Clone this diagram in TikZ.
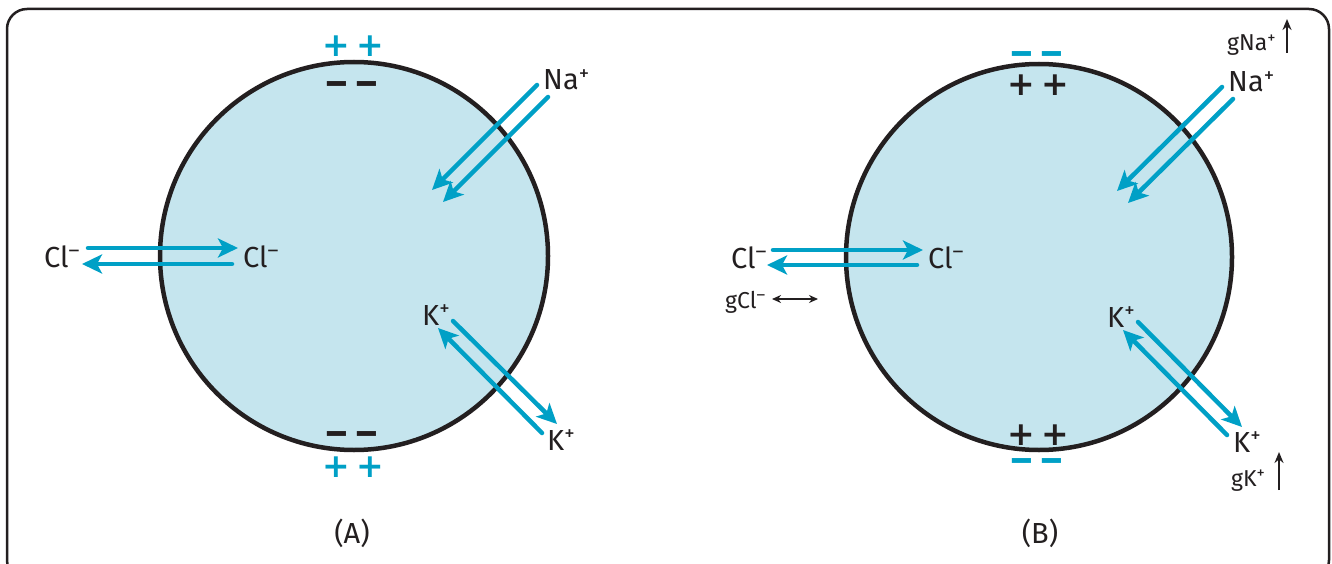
\documentclass[tikz,border=0pt]{standalone}
\usepackage{fontspec}
\setmainfont{Fira Sans}
\newfontfamily\chgfont{DejaVu Sans}
\usetikzlibrary{arrows.meta}
\definecolor{cellfill}{HTML}{C5E5EE}
\definecolor{ion}{HTML}{00A0C6}
\definecolor{ink}{HTML}{231F20}
\newcommand\ionsup[1]{\raisebox{0.32em}{\scalebox{0.72}{#1}}}
\tikzset{
  flux/.style={draw=ion, line width=4.5pt, line cap=round,
    -{Stealth[length=20pt,width=19pt,inset=5pt]}},
  cell/.style={circle, draw=ink, fill=cellfill, line width=4.5pt,
    inner sep=0pt, minimum size=#1},
  lbl/.style={text=ink, font=\fontsize{29}{30}\selectfont, inner sep=0pt, anchor=base west},
  panelcap/.style={text=ink, font=\fontsize{29}{30}\selectfont, inner sep=0pt},
  small/.style={text=ink, font=\fontsize{23}{23}\selectfont, inner sep=0pt, anchor=base west},
  minc/.style={text=ion, font=\fontsize{40}{40}\selectfont\bfseries, inner sep=0pt, anchor=base,
    text height=15pt, text depth=-7pt},
  mink/.style={text=ink, font=\fontsize{40}{40}\selectfont\bfseries, inner sep=0pt, anchor=base,
    text height=15pt, text depth=-7pt},
  plusc/.style={text=ion, font=\chgfont\fontsize{33}{33}\selectfont\bfseries, inner sep=0pt},
  plusk/.style={text=ink, font=\chgfont\fontsize{33}{33}\selectfont\bfseries, inner sep=0pt},
  gar/.style={draw=ink, line width=2.5pt, -{Stealth[length=11pt,width=9pt]}},
  gard/.style={draw=ink, line width=2.2pt, {Stealth[length=9pt,width=8pt]}-{Stealth[length=9pt,width=8pt]}},
  frame/.style={draw=ink, line width=2.5pt, rounded corners=20pt},
}
\newcommand\pp{\makebox[34pt]{+}\makebox[34pt]{+}}
\newcommand\mm{\makebox[30pt]{–}\makebox[30pt]{–}}
\begin{document}
\begin{tikzpicture}[x=1pt,y=-1pt]
\useasboundingbox (0,0) rectangle (1332,564);
\clip (0,0) rectangle (1332,564);
\fill[white] (0,0) rectangle (1332,564);
\draw[frame] (7,9) rectangle (1329,580);

% ---------- cells ----------
\node[cell=388pt] (cellA) at (354,256) {};
\node[cell=386pt] (cellB) at (1039,257) {};

% ---------- charges A ----------
\node[plusc] (aTopOut) at (353,46) {\pp};
\node[mink] (aTopIn) at (352,97) {\mm};
\node[mink] (aBotIn) at (352,446) {\mm};
\node[plusc] (aBotOut) at (353,467) {\pp};
% ---------- charges B ----------
\node[minc] (bTopOut) at (1037,67) {\mm};
\node[plusk] (bTopIn) at (1038,85) {\pp};
\node[plusk] (bBotIn) at (1038,435) {\pp};
\node[minc] (bBotOut) at (1037,473) {\mm};

% ---------- labels A ----------
\node[lbl] (aNa) at (543,90) {Na\ionsup{+}};
\node[lbl] (aClL) at (44,267) {Cl\ionsup{–}};
\node[lbl] (aClR) at (243,267) {Cl\ionsup{–}};
\node[lbl] (aKin) at (422,325) {K\ionsup{+}};
\node[lbl] (aKout) at (547,450) {K\ionsup{+}};
\node[panelcap] (capA) at (352,533) {(A)};

% ---------- labels B ----------
\node[lbl] (bNa) at (1228,92) {Na\ionsup{+}};
\node[small] (bgNa) at (1227,51) {gNa\ionsup{+}};
\node[lbl] (bClL) at (731,268) {Cl\ionsup{–}};
\node[lbl] (bClR) at (928,268) {Cl\ionsup{–}};
\node[small] (bgCl) at (725,308) {gCl\ionsup{–}};
\node[lbl] (bKin) at (1107,327) {K\ionsup{+}};
\node[lbl] (bKout) at (1233,452) {K\ionsup{+}};
\node[small] (bgK) at (1231,486) {gK\ionsup{+}};
\node[panelcap] (capB) at (1040,533) {(B)};

% ---------- flux coordinates A ----------
\coordinate (aNa1s) at (537,85);  \coordinate (aNa1e) at (432,190);
\coordinate (aNa2s) at (548,97);  \coordinate (aNa2e) at (443,202);
\coordinate (aCl1s) at (88,248);  \coordinate (aCl1e) at (238,248);
\coordinate (aCl2s) at (232,264); \coordinate (aCl2e) at (82,264);
\coordinate (aK1s) at (453,321);  \coordinate (aK1e) at (557,424);
\coordinate (aK2s) at (542,433);  \coordinate (aK2e) at (438,328);
% ---------- flux coordinates B ----------
\coordinate (bNa1s) at (1222,87); \coordinate (bNa1e) at (1117,191);
\coordinate (bNa2s) at (1233,99); \coordinate (bNa2e) at (1128,203);
\coordinate (bCl1s) at (773,250); \coordinate (bCl1e) at (923,250);
\coordinate (bCl2s) at (917,265); \coordinate (bCl2e) at (767,265);
\coordinate (bK1s) at (1138,322); \coordinate (bK1e) at (1242,427);
\coordinate (bK2s) at (1227,435); \coordinate (bK2e) at (1123,330);

\foreach \p in {aNa1,aNa2,aCl1,aCl2,aK1,aK2,bNa1,bNa2,bCl1,bCl2,bK1,bK2}
  \draw[flux] (\p s) -- (\p e);

% ---------- conductance arrows ----------
\coordinate (gNaS) at (1287,53); \coordinate (gNaE) at (1287,19);
\coordinate (gKS) at (1279,490);  \coordinate (gKE) at (1279,452);
\coordinate (gClS) at (772,299);  \coordinate (gClE) at (818,299);
\draw[gar] (gNaS) -- (gNaE);
\draw[gar] (gKS) -- (gKE);
\draw[gard] (gClS) -- (gClE);
\end{tikzpicture}
\end{document}
